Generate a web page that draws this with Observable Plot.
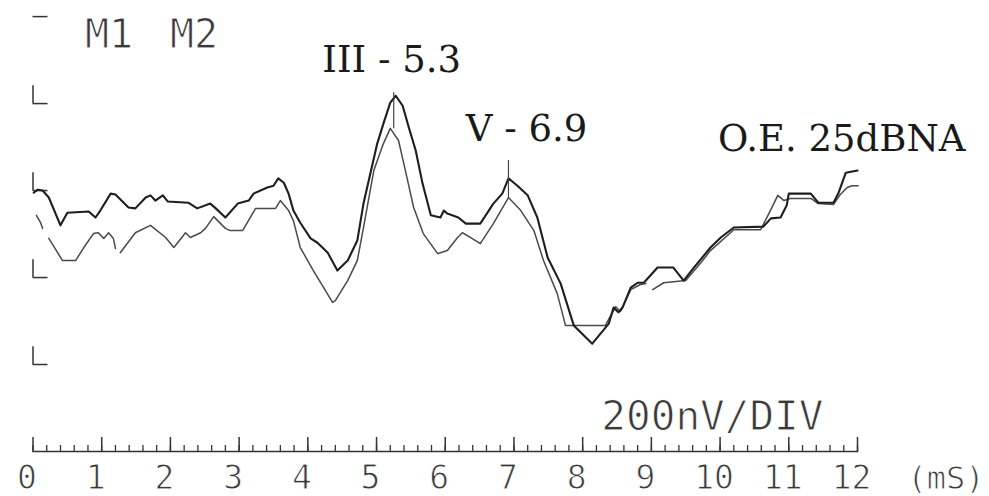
<!DOCTYPE html>
<html><head><meta charset="utf-8">
<script src="https://cdn.jsdelivr.net/npm/d3@7"></script>
<script src="https://cdn.jsdelivr.net/npm/@observablehq/plot@0.6"></script>
<style>
html,body{margin:0;padding:0;background:#fff;}
#chart svg{display:block;}
</style></head><body><div id="chart"></div>
<script>
// ---- data (time in ms, amplitude in nV) ----
const timeM1 = [0.01,0.07,0.14,0.23,0.40,0.50,0.81,0.91,0.98,1.13,1.20,1.39,1.49,1.64,1.71,1.78,1.89,1.96,2.26,2.39,2.58,2.66,2.80,2.98,3.14,3.21,3.41,3.50,3.57,3.65,3.72,3.79,3.89,4.04,4.14,4.29,4.43,4.58,4.72,4.81,5.01,5.10,5.20,5.28,5.38,5.47,5.57,5.67,5.79,5.93,5.98,6.03,6.19,6.30,6.51,6.70,6.83,6.92,7.05,7.20,7.34,7.49,7.68,7.87,8.14,8.38,8.45,8.52,8.58,8.70,8.80,8.89,9.09,9.32,9.47,9.61,9.86,10.01,10.20,10.63,10.74,10.88,10.97,11.00,11.32,11.43,11.65,11.72,11.83,12.00];
const ampM1  = [-5,2,0,-16,-80,-51,-48,-62,-46,-7,-9,-39,-41,-16,-11,-23,-11,-25,-28,-41,-30,-41,-62,-30,-23,-7,7,11,28,18,-7,-46,-74,-110,-120,-143,-184,-161,-115,-30,108,154,202,218,195,145,92,16,-57,-62,-46,-53,-62,-76,-76,-30,-7,28,11,-11,-62,-154,-214,-310,-352,-306,-269,-280,-269,-223,-212,-212,-177,-177,-207,-179,-131,-108,-85,-83,-64,-62,-34,-7,-7,-28,-28,-7,41,46];

const timeM2 = [0.05,0.11,0.14,0.18,0.23,0.43,0.62,0.74,0.88,0.95,1.03,1.10,1.17,1.20,1.23,1.27,1.49,1.71,1.93,2.05,2.22,2.29,2.44,2.51,2.63,2.80,2.87,3.05,3.24,3.53,3.60,3.72,3.79,3.89,4.08,4.36,4.40,4.58,4.72,4.81,4.96,5.10,5.20,5.32,5.42,5.54,5.68,5.89,5.93,6.03,6.18,6.25,6.37,6.51,6.70,6.92,7.10,7.29,7.43,7.63,7.75,8.33,8.41,8.48,8.55,8.70,8.84,8.92,8.97,9.02,9.18,9.50,9.72,9.86,10.20,10.59,10.71,10.84,10.93,11.03,11.32,11.43,11.65,11.74,11.85,11.92,12.01];
const ampM2  = [-57,-74,-87,null,-110,-161,-161,-131,-99,-97,-110,-97,-110,-133,null,-143,-97,-80,-108,-131,-97,-108,-97,-87,-60,-87,-92,-92,-41,-41,-23,-46,-69,-131,-184,-257,-253,-207,-161,-85,46,108,143,115,46,-39,-99,-145,-143,-138,-108,-97,-108,-122,-76,-16,-46,-92,-161,-237,-310,-310,-287,-267,-278,-228,-216,-214,null,-228,-212,-207,-166,-138,-90,-90,-53,-11,-23,-18,-18,-30,-32,-11,7,11,11];

const traceNames = ["M1", "M2"];
const xTicks = [0,1,2,3,4,5,6,7,8,9,10,11,12];
const xTickLabels = ["0","1","2","3","4","5","6","7","8","9","10","11","12"];
const xMinorTicks = d3.range(0, 61).map(i => i / 5);
const yTicks = [400, 200, 0, -200, -400];
const peakLabels = ["III - 5.3", "V - 6.9"];
const peakTimes = [5.25, 6.92];
const peakTop = [225, 69];
const peakBottom = [142, -16];
const stimLabel = "O.E. 25dBNA";
const scaleLabel = "200nV/DIV";
const unitLabel = "(mS)";

// ---- styles ----
const INK = "#1e1e1e";
const mono = {fontFamily: "DejaVu Sans Mono", fill: "#3a3a3a", stroke: "#fff", strokeWidth: 0.9, paintOrder: "fill"};
const serif = {fontFamily: "DejaVu Serif", fill: "#1a1a1a", fontSize: 37};
const frameH = 451; // px from top to axis line (height - marginBottom)
const frameW = 857 - 32.5;
const peakOffsets = [{dx: -2, dy: -33}, {dx: 18, dy: -31}];

const idx1 = d3.range(timeM1.length);
const idx2 = d3.range(timeM2.length);

const chart = Plot.plot({
  width: 989, height: 496,
  marginLeft: 32.5, marginRight: 132, marginTop: 0, marginBottom: 45,
  x: {domain: [0, 12], axis: null},
  y: {domain: [-600, 437], axis: null},
  style: {background: "#fff", overflow: "visible"},
  marks: [
    // time axis
    Plot.frame({anchor: "bottom", stroke: "#333", strokeWidth: 1.6}),
    Plot.tickX(xMinorTicks, {x: d => d, insetTop: frameH - 6, stroke: "#333", strokeWidth: 1.3}),
    Plot.tickX(xTicks, {x: d => d, insetTop: frameH - 14, stroke: "#333", strokeWidth: 1.5}),
    Plot.text(xTicks, {x: d => d, text: (d, i) => xTickLabels[i], frameAnchor: "bottom", dy: 27, dx: -6, textAnchor: "middle", lineAnchor: "middle", fontSize: 33, ...mono}),
    Plot.text([unitLabel], {frameAnchor: "bottom-right", textAnchor: "end", dx: 127, dy: 27, lineAnchor: "middle", fontSize: 32, ...mono}),
    Plot.text([scaleLabel], {frameAnchor: "bottom-right", textAnchor: "end", dx: -34, dy: -35, lineAnchor: "middle", fontSize: 41, ...mono}),
    // amplitude division marks
    Plot.tickY(yTicks, {y: d => d, insetRight: frameW - 15, stroke: "#333", strokeWidth: 1.5}),
    Plot.ruleX(yTicks.slice(1), {x: () => 0, y1: d => d, y2: d => d + 41, stroke: "#333", strokeWidth: 1.5}),
    // traces
    Plot.line(idx2, {x: i => timeM2[i], y: i => ampM2[i], stroke: "#4a4a4a", strokeWidth: 1.5, strokeLinejoin: "round"}),
    Plot.line(idx1, {x: i => timeM1[i], y: i => ampM1[i], stroke: INK, strokeWidth: 2.1, strokeLinejoin: "round"}),
    // peak markers
    Plot.ruleX(peakTimes, {x: d => d, y1: (d, i) => peakBottom[i], y2: (d, i) => peakTop[i], stroke: "#444", strokeWidth: 1.2}),
    ...peakLabels.map((lab, i) => Plot.text([lab], {x: () => peakTimes[i], y: () => peakTop[i], dx: peakOffsets[i].dx, dy: peakOffsets[i].dy, textAnchor: "middle", lineAnchor: "middle", ...serif})),
    Plot.text([stimLabel], {frameAnchor: "top-right", textAnchor: "end", dx: 108, dy: 139, lineAnchor: "middle", ...serif}),
    // trace labels
    ...traceNames.map((n, i) => Plot.text([n], {frameAnchor: "top-left", textAnchor: "start", dx: [52, 137][i], dy: 35, lineAnchor: "middle", fontSize: 40, ...mono}))
  ]
});
document.getElementById("chart").appendChild(chart);
</script>
</body></html>
